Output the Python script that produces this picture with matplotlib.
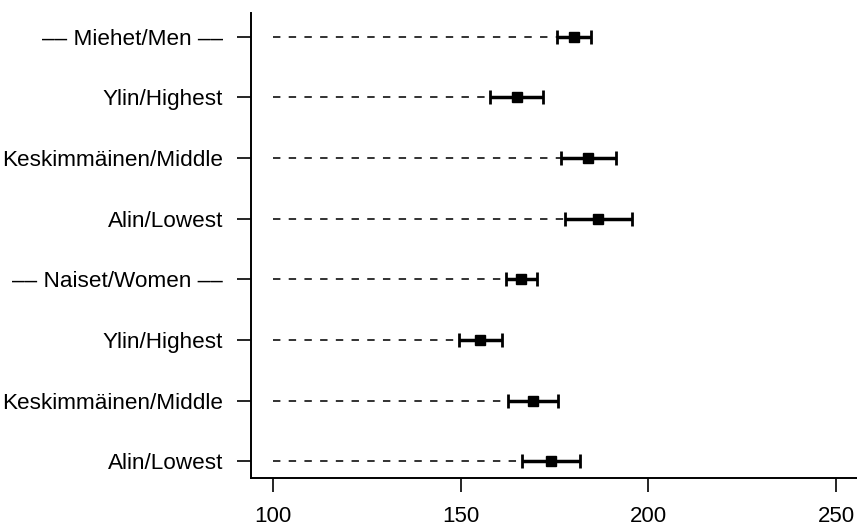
import matplotlib
matplotlib.use("Agg")
import matplotlib.pyplot as plt

labels = ["\u2013\u2013 Miehet/Men \u2013\u2013", "Ylin/Highest", "Keskimmäinen/Middle", "Alin/Lowest",
          "\u2013\u2013 Naiset/Women \u2013\u2013", "Ylin/Highest", "Keskimmäinen/Middle", "Alin/Lowest"]
estimates = [180.2, 164.9, 183.9, 186.5, 166.1, 155.1, 169.2, 174.0]
lower = [175.6, 157.8, 176.7, 177.8, 162.1, 149.4, 162.7, 166.3]
upper = [184.7, 171.9, 191.4, 195.6, 170.2, 160.9, 175.9, 181.8]
xticks = [100, 150, 200, 250]
line_start = 100

plt.rcParams['font.family'] = ['Liberation Sans', 'DejaVu Sans']

fig = plt.figure(figsize=(8.57, 5.29), dpi=100)
ax = fig.add_axes([251/857, (529-478.3)/529, 1-251/857, (478.3-13)/529])

n = len(labels)
ys = list(range(n, 0, -1))

for y, lo in zip(ys, lower):
    ax.plot([line_start, lo], [y, y], color="#222222", lw=1.3,
            dashes=(4.1, 4.6), solid_capstyle="butt", dash_capstyle="butt")

xerr = [[e - l for e, l in zip(estimates, lower)], [u - e for e, u in zip(estimates, upper)]]
ax.errorbar(estimates, ys, xerr=xerr, fmt="s", color="black", ms=7,
            elinewidth=2.5, capsize=5.3, capthick=2.0, zorder=3)

ax.set_xlim(94.1, 255.6)
ax.set_ylim(0.72, 8.39)
ax.set_xticks(xticks)
ax.set_xticklabels([str(t) for t in xticks])
ax.set_yticks(ys)
ax.set_yticklabels(labels)

for s in ["top", "right"]:
    ax.spines[s].set_visible(False)
for s in ["left", "bottom"]:
    ax.spines[s].set_linewidth(1.4)

ax.tick_params(axis="both", length=10, width=1.2, labelsize=16.2)
ax.tick_params(axis="x", pad=10, labelsize=16)
ax.tick_params(axis="y", pad=10)

fig.savefig("out.png", dpi=100)
